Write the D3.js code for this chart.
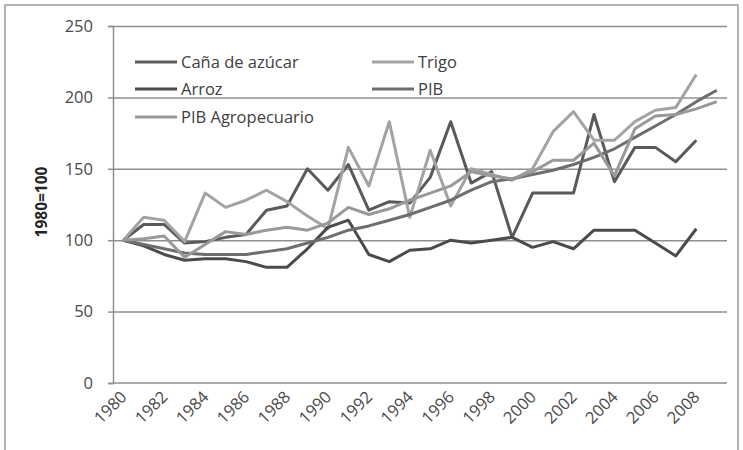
<!DOCTYPE html>
<html>
<head>
<meta charset="utf-8">
<script src="https://cdn.jsdelivr.net/npm/d3@7"></script>
<style>
  html, body { margin: 0; padding: 0; background: #fff; }
  svg { display: block; }
  text { font-family: "Open Sans", "Noto Sans", sans-serif; }
</style>
</head>
<body>
<svg id="chart" width="743" height="450"></svg>
<script>
const years = d3.range(1980, 2010);
const yTicks = [0, 50, 100, 150, 200, 250];
const xTickLabels = d3.range(1980, 2009, 2);

const cana   = [100,111,111,98,99,102,104,121,124,150,135,153,121,127,126,144,183,140,148,102,133,133,133,188,141,165,165,155,170];
const trigo  = [100,116,114,99,133,123,128,135,127,117,108,165,138,183,116,163,124,150,146,142,150,176,190,170,170,183,191,193,216];
const arroz  = [100,96,90,86,87,87,85,81,81,94,109,114,90,85,93,94,100,98,100,102,95,99,94,107,107,107,98,89,108];
const pib    = [100,97,94,91,90,90,90,92,94,98,102,107,110,114,118,123,128,135,141,143,146,149,153,158,164,172,180,188,197,205];
const pibAgro= [100,101,103,88,97,106,104,107,109,107,112,123,118,122,128,133,138,148,145,143,148,156,156,168,145,178,187,188,192,197];

const seriesNames = ["Caña de azúcar","Trigo","Arroz","PIB","PIB Agropecuario"];
const seriesColors = ["#5a5a5a","#a3a3a3","#4b4b4b","#6e6e6e","#999999"];
const seriesValues = [cana, trigo, arroz, pib, pibAgro];

const svg = d3.select("#chart");

// outer border
svg.append("rect").attr("x",5).attr("y",5).attr("width",733).attr("height",452)
  .attr("fill","none").attr("stroke","#9a9a9a").attr("stroke-width",1.5);

const pLeft = 113, pRight = 727, pTop = 26, pBottom = 383;
const x = d3.scalePoint().domain(years).range([pLeft, pRight]).padding(0.5);
const y = d3.scaleLinear().domain([0, 250]).range([pBottom, pTop]);

// gridlines
svg.append("g").attr("transform",`translate(${pLeft},0)`)
  .call(d3.axisLeft(y).tickValues(yTicks.filter(d=>d>0)).tickSize(-(pRight-pLeft)).tickFormat(""))
  .call(g => g.select(".domain").remove())
  .call(g => g.selectAll("line").attr("stroke","#8f8f8f").attr("stroke-width",1.5));

// y axis
svg.append("g").attr("transform",`translate(${pLeft},0)`)
  .call(d3.axisLeft(y).tickValues(yTicks).tickSize(5).tickPadding(15))
  .call(g => g.select(".domain").attr("stroke","#8f8f8f").attr("stroke-width",1.5))
  .call(g => g.selectAll("line").attr("stroke","#8f8f8f").attr("stroke-width",1.5))
  .call(g => g.selectAll("text").attr("fill","#4a4a4a").style("font-size","16.5px").style("font-family","'Open Sans', sans-serif"));

// x axis
const xa = svg.append("g").attr("transform",`translate(0,${pBottom})`)
  .call(d3.axisBottom(x).tickValues(xTickLabels).tickSize(0).tickPadding(0));
xa.select(".domain").attr("stroke","#8f8f8f").attr("stroke-width",1.5)
  .attr("d", `M${pLeft},0H${pRight}`);
xa.selectAll("text")
  .attr("fill","#4a4a4a").style("font-size","16.5px").style("font-family","'Open Sans', sans-serif")
  .attr("text-anchor","end").attr("dy",null).attr("y",0)
  .attr("transform","translate(4,15) rotate(-45)");

// y title
svg.append("text").attr("transform","translate(47,202) rotate(-90)")
  .attr("text-anchor","middle").attr("fill","#262626")
  .style("font-size","15.5px").style("font-weight","bold").text("1980=100");

// lines
const line = d3.line().x((d,i)=>x(years[i])).y(d=>y(d));
seriesValues.forEach((vals,k) => {
  svg.append("path").datum(vals).attr("d", line)
    .attr("fill","none").attr("stroke",seriesColors[k]).attr("stroke-width",3)
    .attr("stroke-linejoin","round");
});

// legend
const legendPos = [[135,62],[372,62],[135,89],[372,89],[135,117]];
seriesNames.forEach((name,k) => {
  const [lx, ly] = legendPos[k];
  svg.append("line").attr("x1",lx).attr("x2",lx+42).attr("y1",ly).attr("y2",ly)
    .attr("stroke",seriesColors[k]).attr("stroke-width",3);
  svg.append("text").attr("x",lx+46).attr("y",ly+6).attr("fill","#404040")
    .style("font-size","16.5px").text(name);
});
</script>
</body>
</html>
